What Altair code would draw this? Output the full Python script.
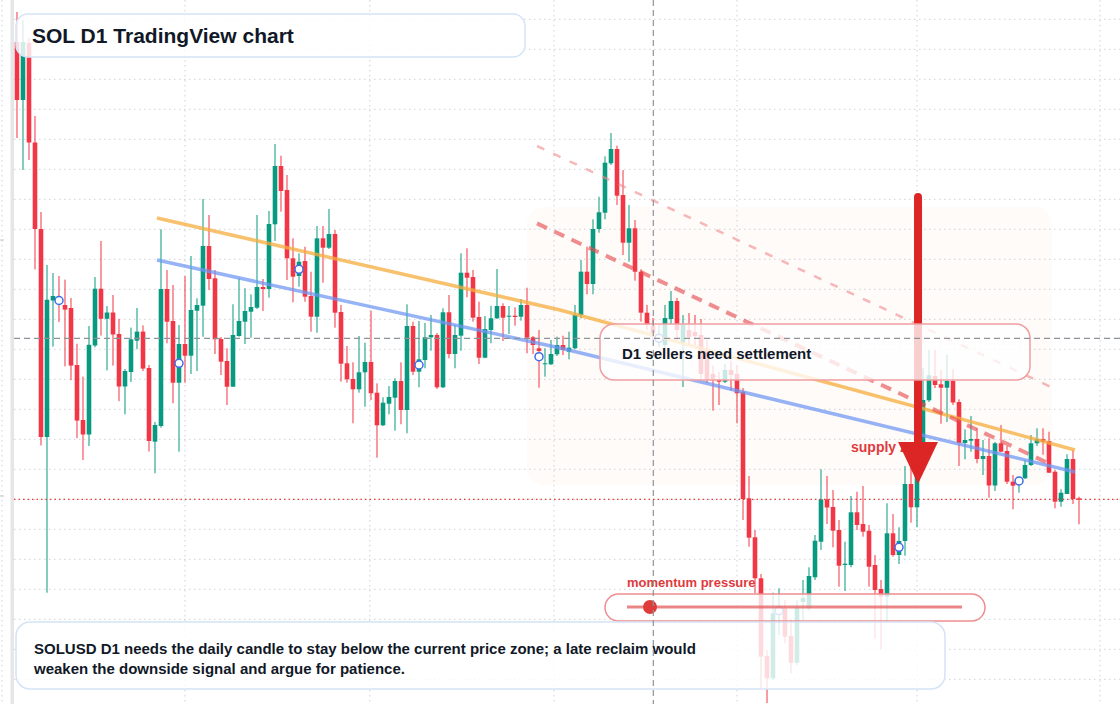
import altair as alt
import pandas as pd

# ---------------- candle data (arbitrary price units) ----------------
opens = [698, 640, 697, 597.5, 511, 303, 439.5, 441, 435, 432,
         375, 320, 305.5, 394.5, 451.3, 421.2, 427.5, 406, 353.5, 368,
         399.3, 408.4, 372, 298.3, 314, 451, 419, 357.3, 396, 384.3,
         429.3, 434.3, 494, 461.7, 401, 379, 353.3, 404, 418.3, 428.3,
         432.3, 453, 451, 515.7, 574, 550, 481.7, 464, 479, 444,
         423.3, 501.7, 492.3, 506, 428, 376.7, 361, 350.7, 367.7, 378,
         347.3, 314.7, 336.3, 342.3, 359, 330, 414, 368.3, 380, 402.7,
         405, 352.7, 427.7, 386, 404.3, 467.3, 463, 423, 382.3, 410,
         421.7, 434, 423.3, 424.3, 423.3, 435, 402.7, 391.7, 375.7, 375.7,
         385.7, 395, 388.3, 391.7, 425, 468.3, 456, 511, 527.3, 576.7,
         591, 545, 497.3, 511.7, 468.3, 427.3, 414, 400, 395, 421,
         439, 397, 410, 408, 405, 390, 366, 361, 358.3, 370,
         366, 348.3, 241.7, 202.7, 161.7, 84, 61.7, 125, 131.7, 104,
         77.3, 138, 131.7, 162.7, 198.3, 240.7, 233, 210, 175, 175,
         227.7, 216, 209.3, 175, 151, 143.3, 206.7, 185, 199, 256,
         232.7, 292, 339.7, 364, 355.7, 352.3, 359, 338, 297, 299.3,
         301, 281, 284, 254.5, 296.7, 289, 258.3, 256, 261.7, 275,
         296.7, 301, 299, 268.3, 238.3, 246, 281, 241.7]
highs = [728, 720, 702, 624, 528, 475, 467, 464, 460.4, 442,
         396.3, 363.4, 414, 463, 499, 434, 445, 421.2, 371, 412.4,
         432, 414.6, 375, 318, 510.7, 470, 455, 415, 464, 484,
         441.7, 541, 525, 470, 403, 391.7, 435.7, 461.7, 451.7, 445.7,
         525, 461, 529, 596, 584.3, 565, 501.7, 486.7, 493.3, 468.3,
         514, 514, 531, 510, 435, 394, 377.7, 404, 397.3, 429.3,
         356.7, 342.7, 354, 361.7, 377.7, 435.7, 418.3, 419, 417, 425,
         407, 431.7, 445, 415, 486.7, 491.7, 470, 438.3, 424, 434.3,
         471, 436.7, 434, 432.7, 441, 452.3, 404, 410, 391.7, 400,
         403.3, 404.3, 408.3, 435, 480, 493.3, 520.7, 543.3, 583.7, 607,
         594.3, 570, 535, 520, 470.7, 435, 422, 415, 435, 449,
         442, 425, 427, 425, 421, 400, 374.3, 368, 376, 379.3,
         375, 352, 264, 210, 166, 90, 147.3, 151.7, 140, 120.7,
         140, 160, 172.7, 205, 270.7, 264, 250, 220, 198.3, 244,
         248.3, 254, 215, 185, 160, 236.7, 226, 212.7, 274, 273.7,
         300, 372, 390, 390, 370, 385, 370.7, 340.7, 310.7, 324,
         311.7, 300, 301.7, 298, 315, 294, 265, 262, 280, 305,
         311.7, 311.7, 308.3, 270, 250.7, 285.7, 290, 243.3]
lows = [602, 570, 580, 470.5, 294.5, 147.3, 393.4, 418, 373.6, 359.7,
        301.8, 280, 294, 392.7, 404.4, 369.6, 374.4, 338.8, 325.7, 358,
        390.8, 369, 288.5, 266.7, 312.3, 396.7, 336.7, 288.3, 357.3, 366,
        369, 403.3, 450, 386, 365, 335, 353, 403.3, 396, 402.3,
        431, 429, 442.3, 499, 528.3, 460, 437.7, 453.3, 438.3, 408.3,
        407.3, 457.3, 491, 412.3, 358.3, 357.3, 316.7, 347.3, 333.3, 340,
        282.3, 314, 325.7, 309.3, 315.7, 306.7, 365, 352.7, 371.7, 389.3,
        351, 352, 381.7, 371.7, 389.3, 442.7, 418.3, 376, 381.7, 396.7,
        421, 399, 406, 414.3, 419.3, 386.7, 386, 352.3, 363.3, 375,
        384, 385, 380.7, 391, 421.7, 445.7, 445.7, 507.3, 520.7, 575,
        535, 485, 478.3, 459.3, 418.3, 410, 400, 393, 392, 415,
        400, 353, 395, 395, 360, 357, 329.3, 335, 357, 349.3,
        316.7, 220, 193.3, 147, 51.7, 37, 60, 105, 96.7, 66.7,
        75, 120, 129.3, 160, 190, 216, 192.7, 153.3, 149, 172.7,
        210, 203.3, 153.3, 101, 90.7, 118.3, 183.3, 176, 184.3, 217.3,
        212.7, 288, 338, 352, 316.3, 318, 335, 274, 280.7, 288.3,
        276.7, 265, 242.3, 249, 288, 256, 230.7, 247.3, 261, 274,
        294, 285.3, 267, 231.7, 233.3, 246, 236, 215.7]
closes = [640, 698, 597.5, 511, 303, 440.3, 444, 438, 430.4, 374.4,
          319.4, 305.5, 395.2, 451.3, 421.2, 427.5, 405.5, 353.5, 369, 400.7,
          408.4, 371.4, 299, 315, 451, 418.3, 357.3, 396, 384.3, 430,
          435, 494, 461, 400.7, 378.3, 353.3, 405, 419, 429, 433,
          453, 451, 516, 574, 549, 481.7, 463.3, 478.3, 443.3, 423.3,
          501.7, 492.3, 506, 427.3, 376.3, 360.7, 350.7, 367.7, 378, 346.7,
          314.7, 337.3, 343, 359, 330, 414, 368.3, 380.7, 402.7, 405,
          352.7, 427.7, 386, 405, 467.3, 462.3, 422.3, 382.3, 411, 421.7,
          434, 422.3, 424.3, 423, 435, 402.3, 395, 389, 376.7, 386,
          395, 390, 392.3, 425, 468.3, 456, 511, 527.7, 577.3, 591,
          544.3, 497.3, 511.7, 468.3, 427.3, 415, 407, 404, 422, 439,
          410, 415, 403, 404, 366, 361, 360, 358.3, 370, 365,
          346.7, 241, 202.3, 161.7, 83.3, 61.7, 126.7, 132, 103.3, 77.3,
          132.7, 142, 164, 199.3, 240.7, 232.5, 209.3, 174.3, 176.3, 227.7,
          215, 208.3, 173.3, 150, 143.3, 206.7, 185, 199, 256, 232.7,
          292, 340, 364.7, 355, 352.3, 359, 337.5, 297, 300, 301,
          281, 284, 254.5, 296.7, 288.3, 258.3, 254.3, 260, 275, 296.7,
          300.7, 298.3, 267.3, 238.3, 247.3, 281, 241, 240.3]

# signal markers (candle index, price)
marker_idx = [7, 27, 47, 67, 87, 107, 127, 147, 167]
marker_val = [439.5, 376.7, 470.7, 375, 383.3, 401.7, 129.3, 192.7, 259]

# trend lines (candle index, price)
orange_idx = [23.33, 90.5, 176.33]
orange_val = [522, 430, 290]
blue_idx = [23.33, 90.5, 176.33]
blue_val = [480, 392, 268]
dash_idx = [86.67, 171.83]
dash_val = [516.6, 277]
light_idx = [86.67, 172.5]
light_val = [594, 352.5]

# arrow (candle index, price)
arrow_idx = [150.17]
arrow_top = [543]
arrow_base = [295]
arrow_head = [277]

# reference levels
grid_h = [720.7, 690.7, 660.7, 630.7, 600.7, 570.7, 540.7, 510.7, 480.7, 450.7,
          420.7, 390.7, 360.7, 330.7, 300.7, 270.7, 240.7, 210.7, 180.7, 150.7,
          120.7, 90.7, 60.7]
grid_v = [-2.5, 28, 58.8, 89.5, 120, 150, 180.5]
price_now = [240.7]
cross_price = [401.7]
cross_idx = [106.05]

# texts
title_text = "SOL D1 TradingView chart"
box_text = "D1 sellers need settlement"
zone_text = "supply zone"
momentum_text = "momentum pressure"
note_lines = ["SOLUSD D1 needs the daily candle to stay below the current price zone; a late reclaim would",
              "weaken the downside signal and argue for patience."]

GREEN = "#089981"
RED = "#f23645"
FONT = "Liberation Sans"
DARK = "#111827"

df = pd.DataFrame({"idx": list(range(len(opens))), "open": opens, "high": highs,
                   "low": lows, "close": closes})
df["dir"] = ["up" if c >= o else "down" for o, c in zip(opens, closes)]

xs = alt.Scale(domain=[-2.8333, 183.8333], nice=False, zero=False, padding=0)
ys = alt.Scale(domain=[36, 740], nice=False, zero=False, padding=0)


def X(f):
    return alt.X(f, type="quantitative", scale=xs, axis=None)


def Y(f):
    return alt.Y(f, type="quantitative", scale=ys, axis=None)


col = alt.Color("dir:N", scale=alt.Scale(domain=["up", "down"], range=[GREEN, RED]), legend=None)
one = pd.DataFrame({"k": [0]})

zone = alt.Chart(one).mark_rect(cornerRadius=18, fill="#fefbf8").encode(
    x=alt.value(527), x2=alt.value(1052), y=alt.value(207), y2=alt.value(485))
strip = alt.Chart(one).mark_rect(fill="#e6e6e6").encode(
    x=alt.value(10.5), x2=alt.value(14), y=alt.value(0), y2=alt.value(704))
ticks = alt.Chart(pd.DataFrame({"v": [500, 244]})).mark_rule(color="#c4c4c4", strokeWidth=1).encode(
    y=Y("v"), x=alt.value(0), x2=alt.value(4))

hgrid = alt.Chart(pd.DataFrame({"v": grid_h})).mark_rule(
    color="#cdd1d7", strokeDash=[1.5, 3.5], strokeWidth=1).encode(
    y=Y("v"), x=alt.value(14), x2=alt.value(1120))
vgrid = alt.Chart(pd.DataFrame({"g": grid_v})).mark_rule(
    color="#cdd1d7", strokeDash=[1.5, 3.5], strokeWidth=1).encode(
    x=X("g"), y=alt.value(0), y2=alt.value(704))

wicks = alt.Chart(df).mark_rule(strokeWidth=1).encode(
    x=X("idx"), y=Y("low"), y2=alt.Y2("high"), color=col)
bodies = alt.Chart(df).mark_bar(size=4.6).encode(
    x=X("idx"), y=Y("open"), y2=alt.Y2("close"), color=col)

orange = alt.Chart(pd.DataFrame({"idx": orange_idx, "v": orange_val})).mark_line(
    color="#f6ac3c", strokeWidth=3.5, opacity=0.75).encode(x=X("idx"), y=Y("v"))
blue = alt.Chart(pd.DataFrame({"idx": blue_idx, "v": blue_val})).mark_line(
    color="#6d95f2", strokeWidth=3.5, opacity=0.72).encode(x=X("idx"), y=Y("v"))
dash = alt.Chart(pd.DataFrame({"idx": dash_idx, "v": dash_val})).mark_line(
    color="#e5484d", strokeWidth=4, opacity=0.62, strokeDash=[11, 8]).encode(x=X("idx"), y=Y("v"))
light = alt.Chart(pd.DataFrame({"idx": light_idx, "v": light_val})).mark_line(
    color="#f08a8d", strokeWidth=2.5, opacity=0.6, strokeDash=[8, 10]).encode(x=X("idx"), y=Y("v"))

markers = alt.Chart(pd.DataFrame({"idx": marker_idx, "v": marker_val})).mark_point(
    shape="circle", size=64, fill="white", fillOpacity=1, stroke="#3b6fe8",
    strokeWidth=1.5, opacity=1).encode(x=X("idx"), y=Y("v"))

price_line = alt.Chart(pd.DataFrame({"v": price_now})).mark_rule(
    color="#e53e3e", strokeDash=[1.5, 3], strokeWidth=1.3).encode(
    y=Y("v"), x=alt.value(14), x2=alt.value(1120))

zone_label = alt.Chart(one).mark_text(
    align="left", baseline="alphabetic", font=FONT, fontSize=14, fontWeight="bold",
    color="#e03a3e").encode(x=alt.value(851), y=alt.value(452), text=alt.value(zone_text))

arrow_df = pd.DataFrame({"idx": arrow_idx, "top": arrow_top, "base": arrow_base, "head": arrow_head})
shaft = alt.Chart(arrow_df).mark_rule(color="#dc2626", strokeWidth=8, strokeCap="round").encode(
    x=X("idx"), y=Y("top"), y2=alt.Y2("base"))
head = alt.Chart(arrow_df).mark_point(
    shape="M-0.95,-1L0.95,-1L0,1Z", size=1764, filled=True, color="#dc2626",
    opacity=1, strokeWidth=0).encode(x=X("idx"), y=Y("head"))

momentum_label = alt.Chart(one).mark_text(
    align="left", baseline="alphabetic", font=FONT, fontSize=13, fontWeight="bold",
    color="#e03a3e").encode(x=alt.value(627), y=alt.value(587), text=alt.value(momentum_text))

d1_box = alt.Chart(one).mark_rect(
    cornerRadius=14, fill="white", fillOpacity=0.78, stroke="#f09ea1", strokeWidth=1.5).encode(
    x=alt.value(600), x2=alt.value(1030), y=alt.value(324), y2=alt.value(380))
d1_text = alt.Chart(one).mark_text(
    align="left", baseline="alphabetic", font=FONT, fontSize=15, fontWeight="bold",
    color=DARK).encode(x=alt.value(622), y=alt.value(359), text=alt.value(box_text))

pill = alt.Chart(one).mark_rect(
    cornerRadius=13.5, fill="white", fillOpacity=0.8, stroke="#f08c8f", strokeWidth=1.5).encode(
    x=alt.value(605), x2=alt.value(985), y=alt.value(594), y2=alt.value(621))
pill_line = alt.Chart(one).mark_rule(color="#e35d5d", strokeWidth=3, opacity=0.75).encode(
    x=alt.value(627), x2=alt.value(962), y=alt.value(607))
pill_dot = alt.Chart(one).mark_point(
    shape="circle", size=196, filled=True, color="#e03b3b", opacity=1).encode(
    x=alt.value(650), y=alt.value(607))

note_box = alt.Chart(one).mark_rect(
    cornerRadius=14, fill="white", fillOpacity=0.82, stroke="#d5e3f8", strokeWidth=1.5).encode(
    x=alt.value(16), x2=alt.value(945), y=alt.value(622), y2=alt.value(689))
note1 = alt.Chart(one).mark_text(
    align="left", baseline="alphabetic", font=FONT, fontSize=15, fontWeight="bold",
    color=DARK).encode(x=alt.value(34), y=alt.value(653.5), text=alt.value(note_lines[0]))
note2 = alt.Chart(one).mark_text(
    align="left", baseline="alphabetic", font=FONT, fontSize=15, fontWeight="bold",
    color=DARK).encode(x=alt.value(34), y=alt.value(673.5), text=alt.value(note_lines[1]))

title_box = alt.Chart(one).mark_rect(
    cornerRadius=12, fill="white", fillOpacity=0.82, stroke="#d5e3f8", strokeWidth=1.5).encode(
    x=alt.value(16), x2=alt.value(525), y=alt.value(14), y2=alt.value(57))
title = alt.Chart(one).mark_text(
    align="left", baseline="alphabetic", font=FONT, fontSize=21, fontWeight="bold",
    color=DARK).encode(x=alt.value(32), y=alt.value(43.3), text=alt.value(title_text))

cross_h = alt.Chart(pd.DataFrame({"v": cross_price})).mark_rule(
    color="#8e9399", strokeDash=[6, 4], strokeWidth=1.2).encode(
    y=Y("v"), x=alt.value(14), x2=alt.value(1120))
cross_v = alt.Chart(pd.DataFrame({"g": cross_idx})).mark_rule(
    color="#8e9399", strokeDash=[6, 4], strokeWidth=1.2).encode(
    x=X("g"), y=alt.value(0), y2=alt.value(704))

chart = alt.layer(
    zone, strip, ticks, hgrid, vgrid, wicks, bodies, orange, blue, dash, light,
    markers, price_line, zone_label, shaft, head, momentum_label,
    d1_box, d1_text, pill, pill_line, pill_dot, note_box, note1, note2,
    title_box, title, cross_h, cross_v
).properties(
    width=1120, height=704, padding=0, background="white",
    autosize=alt.AutoSizeParams(type="none")
).configure_view(strokeWidth=0)

chart.save("out.html", embed_options={"renderer": "svg", "actions": False})
